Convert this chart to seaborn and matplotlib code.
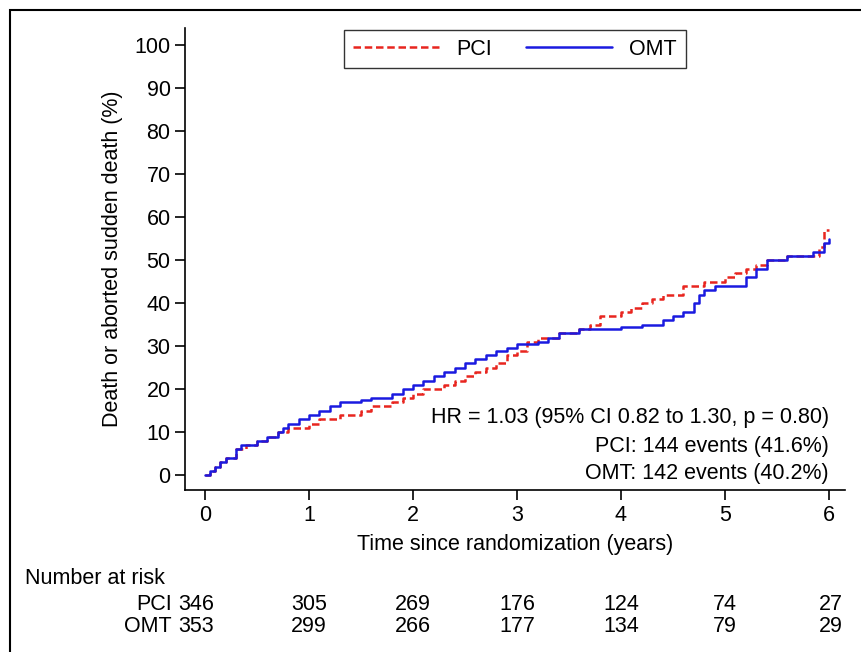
import matplotlib
matplotlib.use("Agg")
import matplotlib.pyplot as plt
import seaborn as sns
import pandas as pd
from matplotlib.patches import Rectangle

# Kaplan-Meier cumulative incidence
pci_t = [0, 0.05, 0.1, 0.15, 0.2, 0.3, 0.4, 0.5, 0.6, 0.7, 0.8, 0.9, 1.0, 1.1, 1.2, 1.3, 1.4, 1.5,
         1.6, 1.7, 1.8, 1.9, 2.0, 2.1, 2.2, 2.3, 2.4, 2.5, 2.6, 2.7, 2.8, 2.9,
         3.0, 3.1, 3.2, 3.4, 3.6, 3.7, 3.8, 3.9, 4.0, 4.1, 4.2, 4.3, 4.4, 4.5, 4.6, 4.8,
         5.0, 5.1, 5.2, 5.3, 5.4, 5.5, 5.6, 5.9, 5.95, 6.0]
pci_y = [0, 1, 2, 3, 4, 6, 7, 8, 9, 10, 11, 11, 12, 13, 13, 14, 14, 15,
         16, 16, 17, 18, 19, 20, 20, 21, 22, 23, 24, 25, 26, 28,
         29, 31, 32, 33, 34, 35, 37, 37, 38, 39, 40, 41, 42, 42, 44, 45,
         46, 47, 48, 49, 50, 50, 51, 53, 57, 57]
omt_t = [0, 0.05, 0.1, 0.15, 0.2, 0.3, 0.35, 0.5, 0.6, 0.7, 0.75, 0.8, 0.9, 1.0, 1.1, 1.2, 1.3,
         1.5, 1.6, 1.8, 1.9, 2.0, 2.1, 2.2, 2.3, 2.4, 2.5, 2.6, 2.7, 2.8, 2.9,
         3.0, 3.2, 3.3, 3.4, 3.6, 4.0, 4.2, 4.4, 4.5, 4.6, 4.7, 4.75, 4.8, 4.9, 5.1,
         5.2, 5.3, 5.4, 5.6, 5.85, 5.95, 6.0]
omt_y = [0, 1, 2, 3, 4, 6, 7, 8, 9, 10, 11, 12, 13, 14, 15, 16, 17,
         17.5, 18, 19, 20, 21, 22, 23, 24, 25, 26, 27, 28, 29, 29.5,
         30.5, 31, 32, 33, 34, 34.5, 35, 36, 37, 38, 40, 42, 43, 44, 44,
         46, 48, 50, 51, 52, 54, 55]

risk_times = [0, 1, 2, 3, 4, 5, 6]
pci_risk = [346, 305, 269, 176, 124, 74, 27]
omt_risk = [353, 299, 266, 177, 134, 79, 29]

sns.set_style("ticks")
plt.rcParams["font.family"] = ["Liberation Sans", "DejaVu Sans"]
plt.rcParams.update({"text.color": "black", "axes.labelcolor": "black",
                     "xtick.color": "black", "ytick.color": "black"})
FS = 15.5

fig = plt.figure(figsize=(8.61, 6.52), dpi=100)
ax = fig.add_axes([0.215, 0.248, 0.766, 0.709])

df = pd.concat([
    pd.DataFrame({"t": pci_t, "y": pci_y, "arm": "PCI"}),
    pd.DataFrame({"t": omt_t, "y": omt_y, "arm": "OMT"}),
])
sns.lineplot(data=df[df.arm == "PCI"], x="t", y="y", ax=ax, color="#e8251f",
             linestyle=(0, (3, 1.5)), lw=1.8, drawstyle="steps-post", label="PCI")
sns.lineplot(data=df[df.arm == "OMT"], x="t", y="y", ax=ax, color="#1a1ae0",
             lw=1.8, drawstyle="steps-post", label="OMT")

ax.set_xlim(-0.19, 6.15)
ax.set_ylim(-3.5, 104)
ax.set_xticks(risk_times)
ax.set_yticks(range(0, 101, 10))
ax.tick_params(labelsize=FS, length=7, width=1.2)
sns.despine(ax=ax)
for s in ("left", "bottom"):
    ax.spines[s].set_color("black")
    ax.spines[s].set_linewidth(1.2)
ax.set_xlabel("Time since randomization (years)", fontsize=FS, labelpad=6)
ax.set_ylabel("Death or aborted sudden death (%)", fontsize=FS, labelpad=8)

leg = ax.legend(loc="upper center", ncol=2, fontsize=FS, frameon=True, fancybox=False,
                edgecolor="black", handlelength=4, columnspacing=1.6, borderaxespad=0.1,
                bbox_to_anchor=(0.5, 1.0))
leg.get_frame().set_linewidth(1.0)

ax.text(6.0, 13.5, "HR = 1.03 (95% CI 0.82 to 1.30, p = 0.80)", ha="right", va="center", fontsize=FS)
ax.text(6.0, 6.8, "PCI: 144 events (41.6%)", ha="right", va="center", fontsize=FS)
ax.text(6.0, 0.3, "OMT: 142 events (40.2%)", ha="right", va="center", fontsize=FS)

# number at risk table
fig.text(25 / 861, 1 - 578 / 652, "Number at risk", fontsize=FS, va="center")
for name, vals, ypx in (("PCI", pci_risk, 604), ("OMT", omt_risk, 627)):
    yf = 1 - ypx / 652
    fig.text(172 / 861, yf, name, fontsize=FS, va="center", ha="right")
    for t, v in zip(risk_times, vals):
        xd = ax.transData.transform((t, 0))[0]
        xf = fig.transFigure.inverted().transform((xd, 0))[0]
        ha = "center"
        if t == 0:
            ha = "left"
            xf = 178 / 861
        if t == 6:
            ha = "right"
            xf = 843 / 861
        fig.text(xf, yf, str(v), fontsize=FS, va="center", ha=ha)

fig.patches.append(Rectangle((10 / 861, -0.1), 2, 1.1 - 10 / 652, transform=fig.transFigure,
                             fill=False, edgecolor="black", lw=1.5))

fig.savefig("out.png", dpi=100)
